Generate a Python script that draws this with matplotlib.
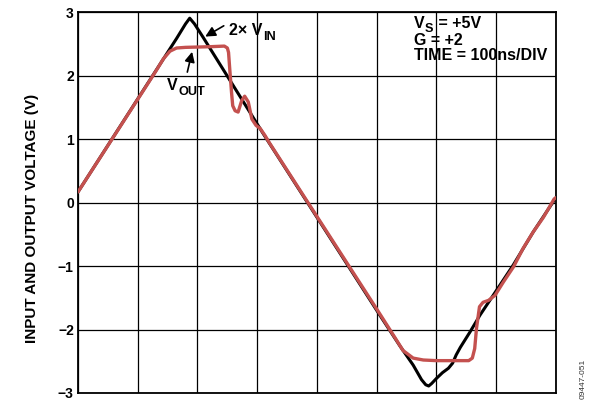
import numpy as np
import matplotlib.pyplot as plt

plt.rcParams['font.family'] = ['Liberation Sans', 'DejaVu Sans']

# time in ns (100 ns/div), voltage in V
vin2_t = [0, 165, 180, 187, 195, 210, 310, 505, 539, 561, 575, 582, 587, 592,
          600, 610, 620, 627, 633, 640, 656, 673, 690, 728, 762, 800]
vin2_v = [0.17, 2.59, 2.82, 2.91, 2.82, 2.60, 1.09, -1.77, -2.26, -2.56, -2.79,
          -2.87, -2.89, -2.85, -2.77, -2.68, -2.61, -2.53, -2.40, -2.28, -2.04,
          -1.77, -1.53, -0.99, -0.46, 0.08]

vout_t = [0, 130, 143, 154, 165, 180, 220, 245, 250, 252, 254, 257, 259, 263,
          268, 274, 279, 285, 291, 298, 305, 313, 320, 505, 528, 544, 561, 578,
          600, 654, 660, 664, 667, 672, 678, 687, 698, 712, 729, 745, 762, 779,
          797, 800]
vout_v = [0.17, 2.07, 2.27, 2.39, 2.44, 2.45, 2.46, 2.47, 2.44, 2.37, 2.11,
          1.74, 1.53, 1.45, 1.43, 1.61, 1.68, 1.59, 1.32, 1.22, 1.17, 1.06, 0.95,
          -1.75, -2.09, -2.33, -2.45, -2.48, -2.49, -2.49, -2.45, -2.30, -1.98,
          -1.64, -1.57, -1.54, -1.46, -1.25, -1.01, -0.72, -0.46, -0.23, 0.06, 0.08]

y_ticks = [-3, -2, -1, 0, 1, 2, 3]
y_labels = ['\u22123', '\u22122', '\u22121', '0', '1', '2', '3']

fig = plt.figure(figsize=(5.89, 4.08), dpi=100)
ax = fig.add_axes([0.1324, 0.0368, 0.8115, 0.9326])

ax.plot(vin2_t, vin2_v, color='black', lw=2.2, solid_capstyle='round', zorder=3)
ax.plot(vout_t, vout_v, color='#C4514F', lw=2.4, solid_capstyle='round', zorder=4)

ax.set_xlim(0, 800)
ax.set_ylim(-3, 3)
ax.set_xticks(np.arange(0, 801, 100))
ax.set_xticklabels([])
ax.set_yticks(y_ticks)
ax.set_yticklabels(y_labels, fontsize=10, fontweight='bold')
ax.tick_params(length=0, pad=3)
ax.grid(True, color='black', lw=0.9)
for s in ax.spines.values():
    s.set_linewidth(1.3)

fig.text(32 / 589, 1 - 218.5 / 408, 'INPUT AND OUTPUT VOLTAGE (V)', rotation=90,
         ha='center', va='center', fontsize=11, fontweight='bold')

renderer = fig.canvas.get_renderer()


def sub_text(x, y, main, sub, after='', size=11.5, drop=3.5):
    """Text with a subscript that is bigger than mathtext's default."""
    t = ax.text(x, y, main, fontsize=size, fontweight='bold', va='baseline')
    bb = t.get_window_extent(renderer)
    base = ax.transData.transform((x, y))
    s = ax.annotate(sub, xy=(bb.x1, base[1]), xycoords='figure pixels',
                    xytext=(0.5, -drop), textcoords='offset points',
                    fontsize=size * 0.8, fontweight='bold', va='baseline')
    if after:
        sb = s.get_window_extent(renderer)
        ax.annotate(after, xy=(sb.x1, base[1]), xycoords='figure pixels',
                    fontsize=size, fontweight='bold', va='baseline')


arrow = dict(arrowstyle='-|>,head_length=0.6,head_width=0.3', color='black', lw=1.2,
             shrinkA=0, shrinkB=0)
ax.annotate('', xy=(213, 2.62), xytext=(244, 2.79), arrowprops=arrow, zorder=5)
sub_text(253, 2.64, '2\u00d7 V', 'IN')
ax.annotate('', xy=(191, 2.38), xytext=(183, 2.06), arrowprops=arrow, zorder=5)
sub_text(149, 1.77, 'V', 'OUT')

sub_text(562, 2.75, 'V', 'S', ' = +5V', drop=2.5)
ax.text(562, 2.48, 'G = +2', fontsize=11.5, fontweight='bold', va='baseline')
ax.text(562, 2.247, 'TIME = 100ns/DIV', fontsize=11.5, fontweight='bold', va='baseline')

fig.text(583 / 589, 1 - 379 / 408, '09447-051', rotation=90, ha='center',
         va='center', fontsize=6, color='#333333')

fig.savefig('out.png', dpi=100)
